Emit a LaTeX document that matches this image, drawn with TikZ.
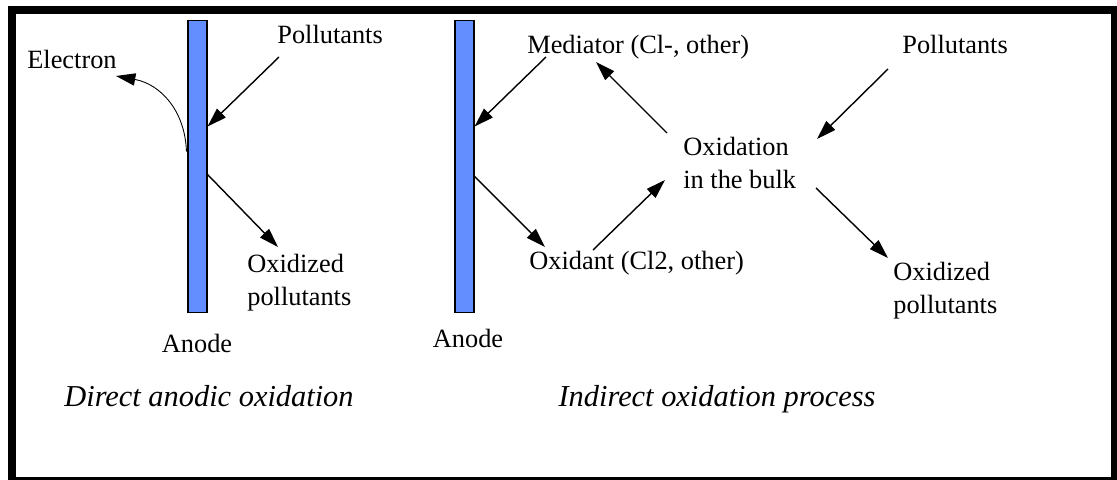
\documentclass[tikz,border=0pt]{standalone}
\usepackage{fontspec}
\setmainfont{Liberation Serif}
\usetikzlibrary{arrows.meta}
\definecolor{anodeblue}{RGB}{98,142,255}
\begin{document}
\begin{tikzpicture}[
  x=0.02cm, y=-0.02cm,
  anode/.style={rectangle, draw, fill=anodeblue, line width=0.6pt, minimum width=0.38cm, minimum height=5.86cm, inner sep=0pt},
  lbl/.style={inner sep=0pt, anchor=north west, align=left, font=\fontsize{15}{18.5}\selectfont},
  caption/.style={inner sep=0pt, anchor=north, font=\fontsize{17.3}{20}\selectfont\itshape},
  arr/.style={-{Triangle[length=11pt,width=7pt]}, line width=0.8pt}
]
\useasboundingbox (0,0) rectangle (1117,480);
\draw[line width=0.16cm] (12,10) rectangle (1115,481);

% Direct anodic oxidation
\node[anode] (barL) at (197.5,166.5) {};
\node[lbl] (electron) at (27,50) {Electron};
\node[lbl] (pollL) at (277,25) {Pollutants};
\node[lbl] (oxL) at (247,254) {Oxidized\\pollutants};
\node[lbl, anchor=north] (anodeLtxt) at (197,334) {Anode};
\node[caption] (direct) at (209,385) {Direct anodic oxidation};
\coordinate (eL) at ([shift={(-1,132)}]barL.north west);
\coordinate (inL) at ([shift={(0,107)}]barL.north east);
\coordinate (outL) at ([shift={(0,155)}]barL.north east);

% Indirect oxidation process
\node[anode] (barR) at (464.5,166.5) {};
\node[lbl] (mediator) at (527,35) {Mediator (Cl-, other)};
\node[lbl] (oxidant) at (529,251) {Oxidant (Cl2, other)};
\node[lbl] (bulk) at (683,137) {Oxidation\\in the bulk};
\node[lbl] (pollR) at (902,35) {Pollutants};
\node[lbl] (oxR) at (893,262) {Oxidized\\pollutants};
\node[lbl, anchor=north] (anodeRtxt) at (468,329) {Anode};
\node[caption] (indirect) at (717,385) {Indirect oxidation process};
\coordinate (inR) at ([shift={(0,107)}]barR.north east);
\coordinate (outR) at ([shift={(0,157)}]barR.north east);

% Arrows
\draw[arr, line width=0.5pt] (eL) .. controls (185,110) and (160,84) .. ([shift={(89,26)}]electron.north west);
\draw[arr] ([shift={(2,32)}]pollL.north west) -- (inL);
\draw[arr] (outL) -- ([shift={(31,-7)}]oxL.north west);
\draw[arr] ([shift={(19,22)}]mediator.north west) -- (inR);
\draw[arr] (outR) -- ([shift={(16,-4)}]oxidant.north west);
\draw[arr] ([shift={(64,-1)}]oxidant.north west) -- ([shift={(-18,43)}]bulk.north west);
\draw[arr] ([shift={(-16,-4)}]bulk.north west) -- ([shift={(69,27)}]mediator.north west);
\draw[arr] ([shift={(-14,34)}]pollR.north west) -- ([shift={(134,2)}]bulk.north west);
\draw[arr] ([shift={(133,51)}]bulk.north west) -- ([shift={(-5,-4)}]oxR.north west);
\end{tikzpicture}
\end{document}
